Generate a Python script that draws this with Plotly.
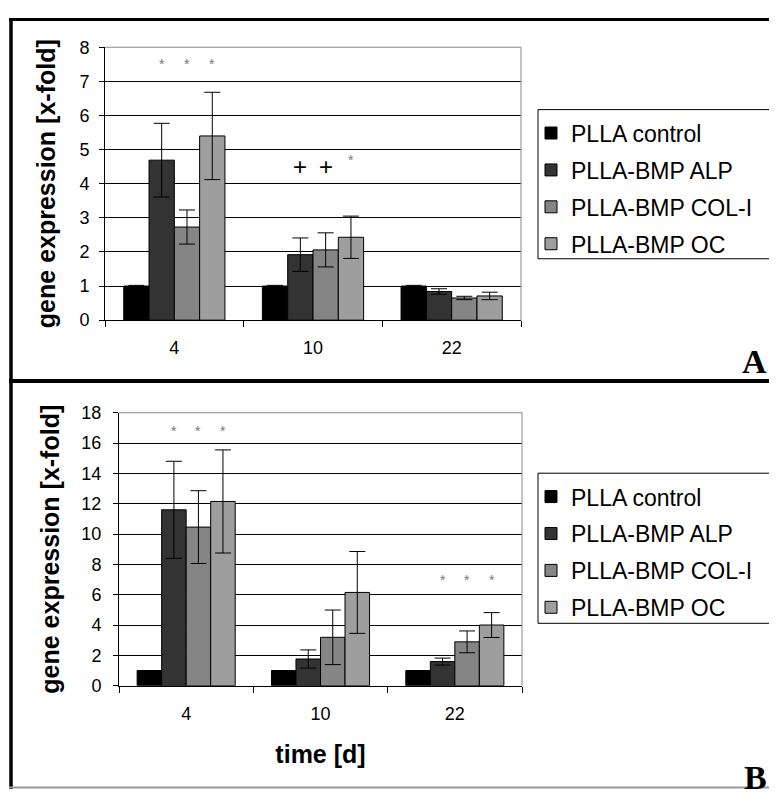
import plotly.graph_objects as go

categories = ["4", "10", "22"]
series_names = ["PLLA control", "PLLA-BMP ALP", "PLLA-BMP COL-I", "PLLA-BMP OC"]
series_colors = ["#000000", "#333333", "#858585", "#9e9e9e"]

# Panel A values and error bars
a_control = [1.0, 1.0, 1.0]
a_control_err = [0.02, 0.02, 0.02]
a_alp = [4.69, 1.92, 0.84]
a_alp_err = [1.08, 0.49, 0.08]
a_col = [2.73, 2.06, 0.65]
a_col_err = [0.50, 0.50, 0.05]
a_oc = [5.40, 2.43, 0.71]
a_oc_err = [1.28, 0.62, 0.11]

# Panel B values and error bars
b_control = [1.0, 1.0, 1.0]
b_control_err = [0.0, 0.0, 0.0]
b_alp = [11.6, 1.76, 1.59]
b_alp_err = [3.2, 0.6, 0.23]
b_col = [10.46, 3.19, 2.89]
b_col_err = [2.4, 1.8, 0.72]
b_oc = [12.15, 6.15, 4.0]
b_oc_err = [3.4, 2.7, 0.82]

a_ticks = [0, 1, 2, 3, 4, 5, 6, 7, 8]
b_ticks = [0, 2, 4, 6, 8, 10, 12, 14, 16, 18]

# significance markers: (panel, category index, series index, symbol, y)
sig_marks = [
    ("A", 0, 1, "*", 7.5), ("A", 0, 2, "*", 7.5), ("A", 0, 3, "*", 7.5),
    ("A", 1, 1, "+", 4.5), ("A", 1, 2, "+", 4.5), ("A", 1, 3, "*", 4.7),
    ("B", 0, 1, "*", 16.8), ("B", 0, 2, "*", 16.8), ("B", 0, 3, "*", 16.8),
    ("B", 2, 1, "*", 7.0), ("B", 2, 2, "*", 7.0), ("B", 2, 3, "*", 7.0),
]

FONT = "Liberation Sans, Arial, sans-serif"
SERIF = "Liberation Serif, Times New Roman, serif"
OFF = 8              # default page body margin
W, H = 777 - 2 * OFF, 807 - 2 * OFF
BARGAP = 0.27

fig = go.Figure()
panelA = [(a_control, a_control_err), (a_alp, a_alp_err), (a_col, a_col_err), (a_oc, a_oc_err)]
panelB = [(b_control, b_control_err), (b_alp, b_alp_err), (b_col, b_col_err), (b_oc, b_oc_err)]

for i, (vals, errs) in enumerate(panelA):
    fig.add_trace(go.Bar(
        x=categories, y=vals, name=series_names[i],
        marker=dict(color=series_colors[i], line=dict(color="black", width=1)),
        error_y=dict(type="data", array=errs, visible=True, color="black", thickness=1, width=8),
        xaxis="x", yaxis="y", legend="legend", legendgroup="a%d" % i,
    ))
for i, (vals, errs) in enumerate(panelB):
    fig.add_trace(go.Bar(
        x=categories, y=vals, name=series_names[i],
        marker=dict(color=series_colors[i], line=dict(color="black", width=1)),
        error_y=dict(type="data", array=errs, visible=any(e > 0 for e in errs),
                     color="black", thickness=1, width=8),
        xaxis="x2", yaxis="y2", legend="legend2", legendgroup="b%d" % i,
    ))

def px(v):
    return (v - OFF) / W

def py(v):
    return 1 - (v - OFF) / H

axis_common = dict(
    showline=True, linecolor="black", linewidth=1,
    ticks="outside", tickcolor="black", tickwidth=1,
    tickfont=dict(family=FONT, size=18, color="black"),
    zeroline=False,
)
title_font = dict(family=FONT, size=25, color="black")
legend_font = dict(family=FONT, size=23, color="black")

fig.update_layout(
    width=W, height=H,
    margin=dict(l=0, r=0, t=0, b=0),
    paper_bgcolor="white", plot_bgcolor="white",
    barmode="group", bargap=BARGAP, bargroupgap=0,
    font=dict(family=FONT, color="black"),
    showlegend=True,
    xaxis=dict(domain=[px(105), px(521)], anchor="y", type="category",
               tickson="boundaries", ticklen=6, ticklabelstandoff=11, showgrid=False,
               **axis_common),
    yaxis=dict(domain=[py(318), py(38)], anchor="x", range=[0, 8], tickvals=a_ticks,
               ticklen=5, ticklabelstandoff=6, showgrid=True, gridcolor="black", gridwidth=1,
               title=dict(text="<b>gene expression [x-fold]</b>", font=title_font, standoff=16),
               **axis_common),
    xaxis2=dict(domain=[px(119), px(522)], anchor="y2", type="category",
                tickson="boundaries", ticklen=6, ticklabelstandoff=12, showgrid=False,
                title=dict(text="<b>time [d]</b>", font=title_font, standoff=22),
                **axis_common),
    yaxis2=dict(domain=[py(693), py(413)], anchor="x2", range=[0, 18], tickvals=b_ticks,
                ticklen=5, ticklabelstandoff=8, showgrid=True, gridcolor="black", gridwidth=1,
                title=dict(text="<b>gene expression [x-fold]</b>", font=title_font, standoff=14),
                **axis_common),
    legend=dict(x=px(531), y=py(104), xanchor="left", yanchor="top",
                borderwidth=0, bgcolor="rgba(0,0,0,0)",
                font=legend_font, traceorder="grouped", tracegroupgap=4),
    legend2=dict(x=px(531), y=py(477), xanchor="left", yanchor="top",
                 borderwidth=0, bgcolor="rgba(0,0,0,0)",
                 font=legend_font, traceorder="grouped", tracegroupgap=4),
)

# significance annotations, placed over the bars via the category axis
bar_w = (1 - BARGAP) / 4
annotations = []
for panel, ci, si, sym, yv in sig_marks:
    xref, yref = ("x", "y") if panel == "A" else ("x2", "y2")
    if sym == "*":
        font = dict(family=FONT, size=14, color="#777777")
    else:
        font = dict(family=FONT, size=24, color="black")
    annotations.append(dict(x=ci + (si - 1.5) * bar_w, y=yv, xref=xref, yref=yref,
                            text=sym, showarrow=False, font=font,
                            xanchor="center", yanchor="middle"))

# panel letters
annotations.append(dict(x=1, y=py(360), xref="paper", yref="paper", text="<b>A</b>",
                        showarrow=False, xanchor="right", yanchor="middle",
                        font=dict(family=SERIF, size=34, color="black")))
annotations.append(dict(x=1, y=py(787), xref="paper", yref="paper", text="<b>B</b>",
                        showarrow=False, xanchor="right", yanchor="middle",
                        font=dict(family=SERIF, size=34, color="black")))
fig.update_layout(annotations=annotations)

shapes = []
# legend boxes (their right side runs past the picture edge)
for top, bottom in ((102, 255), (475, 629)):
    shapes.append(dict(type="rect", xref="paper", yref="paper", x0=px(538), x1=px(820),
                       y0=py(bottom), y1=py(top), line=dict(color="black", width=1),
                       fillcolor="rgba(0,0,0,0)", layer="below"))
# plot area borders (gray) on top and right
for xr, yr in (("x domain", "y domain"), ("x2 domain", "y2 domain")):
    shapes.append(dict(type="line", xref=xr, yref=yr, x0=0, x1=1, y0=1, y1=1,
                       line=dict(color="#888888", width=1)))
    shapes.append(dict(type="line", xref=xr, yref=yr, x0=1, x1=1, y0=0, y1=1,
                       line=dict(color="#888888", width=1)))
# outer frame
shapes.append(dict(type="line", xref="paper", yref="paper", x0=px(9), x1=1, y0=py(9.5), y1=py(9.5),
                   line=dict(color="black", width=3)))
shapes.append(dict(type="line", xref="paper", yref="paper", x0=px(11), x1=px(11), y0=py(8), y1=0,
                   line=dict(color="black", width=3.5)))
shapes.append(dict(type="line", xref="paper", yref="paper", x0=px(9), x1=1, y0=py(380.5), y1=py(380.5),
                   line=dict(color="black", width=4)))
shapes.append(dict(type="line", xref="paper", yref="paper", x0=px(9), x1=1, y0=py(797.5), y1=py(797.5),
                   line=dict(color="#999999", width=2)))
fig.update_layout(shapes=shapes)

fig.write_html("out.html")
